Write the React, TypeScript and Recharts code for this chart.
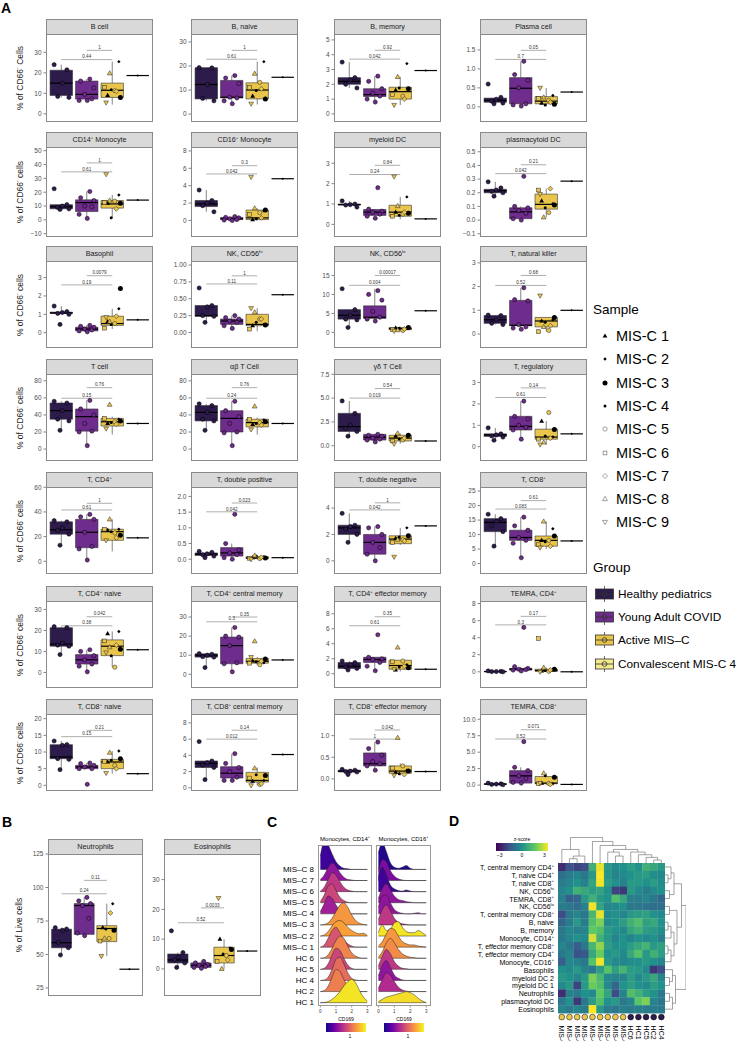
import React from 'react';
import { ComposedChart, Scatter, XAxis, YAxis, ReferenceArea, ReferenceLine, Area, Line } from 'recharts';

const FONT = '"Liberation Sans", Arial, Helvetica, sans-serif';

// ---------------- box plot panels (A: 0-27, B: 28-29) ----------------
const panelTitles = [
  'B cell', 'B, naive', 'B, memory', 'Plasma cell',
  'CD14^+ Monocyte', 'CD16^+ Monocyte', 'myeloid DC', 'plasmacytoid DC',
  'Basophil', 'NK, CD56^hi', 'NK, CD56^lo', 'T, natural killer',
  'T cell', 'αβ T Cell', 'γδ  T Cell', 'T, regulatory',
  'T, CD4^+', 'T, double positive', 'T, double negative', 'T, CD8^+',
  'T, CD4^+ naive', 'T, CD4^+ central memory', 'T, CD4^+ effector memory', 'TEMRA, CD4^+',
  'T, CD8^+ naive', 'T, CD8^+ central memory', 'T, CD8^+ effector memory', 'TEMRA, CD8^+',
  'Neutrophils', 'Eosinophils',
];

const yDomains: [number, number][] = [
  [-4, 39], [-3.3, 33.3], [-0.55, 5.4], [-0.4, 1.92],
  [-12.4, 52.7], [-1.9, 8.45], [-0.62, 3.8], [-0.124, 0.535],
  [-0.83, 3.9], [-0.23, 1.06], [-4.1, 18.8], [-0.59, 3.08],
  [-14, 88], [-14, 88], [-1.6, 7.53], [-0.67, 3.4],
  [-10.3, 60.2], [-0.47, 2.3], [-1.0, 5.6], [-3.6, 26.4],
  [-7.4, 34], [-7.2, 38.4], [-1.9, 9.7], [-1.9, 8.3],
  [-1.7, 21.4], [-0.4, 9.1], [-0.28, 1.5], [-0.9, 10.8],
  [19, 125], [-9.1, 38.6],
];

const yTicks = [
  [0, 10, 20, 30], [0, 10, 20, 30], [0, 1, 2, 3, 4, 5], [0, 0.5, 1, 1.5],
  [-10, 0, 10, 20, 30, 40, 50], [0, 2, 4, 6, 8], [0, 1, 2, 3], [-0.1, 0, 0.1, 0.2, 0.3, 0.4, 0.5],
  [0, 1, 2, 3], [0, 0.25, 0.5, 0.75, 1], [0, 5, 10, 15], [0, 1, 2, 3],
  [0, 20, 40, 60, 80], [0, 20, 40, 60, 80], [0, 2.5, 5, 7.5], [0, 1, 2, 3],
  [0, 20, 40, 60], [0, 0.5, 1, 1.5, 2], [0, 2, 4], [0, 5, 10, 15, 20, 25],
  [0, 10, 20, 30], [0, 10, 20, 30], [0, 2, 4, 6, 8], [0, 2, 4, 6, 8],
  [0, 5, 10, 15, 20], [0, 2, 4, 6, 8], [0, 0.5, 1], [0, 2.5, 5, 7.5, 10],
  [25, 50, 75, 100, 125], [0, 10, 20, 30],
];

const yDecimals = [0, 0, 0, 1, 0, 0, 0, 1, 0, 2, 0, 0, 0, 0, 1, 0, 0, 1, 0, 0, 0, 0, 0, 0, 0, 0, 1, 1, 0, 0];

// [lower whisker, q1, median, q3, upper whisker] for Healthy, Young Adult COVID, Active MIS-C
const boxStats: number[][][] = [
  [[8, 9, 15, 21.3, 24], [6.5, 7.2, 9.5, 16, 17], [4.5, 8, 11.5, 15, 25.5]],
  [[5.5, 6.3, 12.3, 19.3, 19.3], [4.3, 6.7, 7, 14, 16], [4, 6.3, 10, 13, 21.8]],
  [[1.75, 2.0, 2.2, 2.45, 3.5], [0.8, 1.17, 1.3, 1.7, 2.55], [0.6, 1.0, 1.5, 1.8, 2.5]],
  [[0.08, 0.12, 0.17, 0.23, 0.25], [0.02, 0.08, 0.49, 0.77, 1.2], [0.02, 0.08, 0.15, 0.27, 0.5]],
  [[7.5, 8, 9.5, 11, 11.5], [1, 6, 12.5, 14.5, 20.5], [1.5, 8.5, 11.5, 14, 18]],
  [[1.0, 1.6, 1.9, 2.3, 3.5], [0.0, 0.1, 0.2, 0.35, 0.45], [0.0, 0.1, 0.3, 1.2, 1.4]],
  [[0.85, 0.95, 0.97, 1.0, 1.15], [0.3, 0.44, 0.6, 0.73, 0.75], [0.25, 0.4, 0.6, 0.94, 1.35]],
  [[0.175, 0.2, 0.215, 0.225, 0.28], [0.0, 0.01, 0.06, 0.09, 0.1], [0.02, 0.08, 0.115, 0.19, 0.23]],
  [[1.0, 1.05, 1.08, 1.12, 1.45], [0.05, 0.1, 0.2, 0.3, 0.4], [0.2, 0.4, 0.5, 0.9, 1.3]],
  [[0.15, 0.24, 0.25, 0.4, 0.4], [0.06, 0.12, 0.17, 0.2, 0.25], [0.02, 0.1, 0.12, 0.27, 0.36]],
  [[1.3, 3.5, 4.5, 6, 6], [3, 3.7, 4, 7, 11.5], [0.4, 0.7, 1.0, 1.3, 1.5]],
  [[0.4, 0.45, 0.6, 0.78, 0.8], [0.2, 0.35, 0.37, 1.42, 1.95], [0.1, 0.3, 0.55, 0.7, 0.7]],
  [[22, 35, 45, 54, 56], [4, 21, 38, 47, 57], [17, 27, 32, 36, 38]],
  [[22, 33, 43, 51, 53], [4, 20, 36, 45, 56], [17, 26, 31, 35, 37]],
  [[1.0, 1.5, 2.0, 3.4, 4.7], [0.4, 0.6, 0.9, 1.2, 1.2], [0.2, 0.5, 0.8, 1.1, 1.3]],
  [[0.3, 0.48, 0.55, 0.6, 0.88], [0.35, 0.78, 0.95, 1.42, 2.13], [0.08, 0.35, 0.45, 0.82, 1.2]],
  [[13, 22, 25.5, 32, 33], [1, 11, 23.5, 34, 38], [8, 17, 24, 26, 34]],
  [[0.05, 0.12, 0.16, 0.2, 0.25], [0.0, 0.1, 0.2, 0.37, 0.5], [0.0, 0.02, 0.04, 0.08, 0.12]],
  [[1.4, 2.0, 2.5, 2.7, 3.6], [0.0, 0.5, 1.4, 2.0, 2.6], [1.2, 1.3, 1.65, 1.9, 2.5]],
  [[6, 11, 14.2, 15.5, 17], [2, 8, 9, 11.5, 16], [5, 6, 8, 9.5, 14.5]],
  [[8.5, 12.5, 13.5, 21.3, 21.8], [0.3, 4, 6, 8.5, 10.8], [2.5, 8, 12.5, 15.5, 19.5]],
  [[3.5, 9, 10, 10.7, 10.8], [1.3, 5.5, 15, 19.5, 24.5], [4.8, 5.8, 6.8, 8.3, 9]],
  [[0.5, 0.7, 1.0, 1.5, 1.7], [0.4, 1.5, 1.9, 2.2, 2.2], [0.3, 0.6, 1.1, 1.8, 1.8]],
  [[0.0, 0.0, 0.03, 0.05, 0.1], [0.1, 0.2, 0.3, 0.4, 0.6], [0.0, 0.05, 0.15, 0.3, 0.5]],
  [[4.7, 8, 8.5, 12.2, 13.3], [5, 5, 5.5, 6, 6.7], [3.5, 5, 7, 7.8, 10.3]],
  [[1.0, 2.5, 3.0, 3.3, 3.3], [0.9, 1.2, 1.8, 2.6, 4.2], [0.3, 0.7, 0.9, 1.9, 2.5]],
  [[0.1, 0.16, 0.18, 0.2, 0.22], [0.2, 0.3, 0.35, 0.6, 0.85], [0.08, 0.13, 0.18, 0.3, 0.36]],
  [[0.05, 0.1, 0.15, 0.2, 0.3], [0.3, 0.3, 1.4, 2.2, 2.7], [0.1, 0.2, 0.3, 1.3, 1.8]],
  [[49.6, 55, 58.8, 68.9, 70], [63.5, 65, 86.5, 88, 92.6], [48.8, 59.6, 69.4, 71.5, 87.9]],
  [[0.5, 2.0, 3.0, 5.0, 5.5], [0, 0.5, 1.2, 2.0, 2.5], [0, 2.0, 4.5, 7.3, 10]],
];

// Convalescent MIS-C 4 (single sample)
const convValues = [18.7, 15.3, 2.93, 0.39, 14.3, 4.8, 0.27, 0.285, 0.7, 0.56, 5.7, 1.0, 30, 30, 0.5, 0.6,
  19, 0.05, 2.65, 7.8, 10.8, 7.5, 0.6, 0.0, 3.5, 4.1, 0.17, 0.1, 39, 6];

const hcValues = [
  [24, 21.5, 15, 8.5, 8], [19.3, 19.2, 12.3, 6.5, 5.5], [3.5, 2.45, 2.3, 2.0, 1.75], [0.6, 0.25, 0.2, 0.15, 0.1, 0.08],
  [22.5, 11, 10, 9, 8, 7.5], [3.5, 2.3, 2.0, 1.7, 1.0], [1.15, 1.0, 0.97, 0.95, 0.85], [0.28, 0.235, 0.22, 0.21, 0.2, 0.175],
  [1.45, 1.15, 1.1, 1.05, 1.0, 0.45], [0.66, 0.4, 0.38, 0.25, 0.24, 0.15], [11.5, 6, 4.5, 3.5, 3.3, 1.3], [0.8, 0.78, 0.6, 0.45, 0.4],
  [56, 54, 45, 35, 33, 22], [53, 51, 43, 35, 33, 22], [4.7, 3.4, 2.2, 1.8, 1.5, 1.0], [0.88, 0.6, 0.55, 0.5, 0.45, 0.3],
  [33, 32, 27, 25, 22, 13], [0.25, 0.22, 0.17, 0.14, 0.1, 0.05], [3.6, 2.7, 2.6, 2.4, 2.0, 1.4], [17, 15.5, 14.5, 13, 11, 6],
  [21.8, 21.3, 14, 13, 12.5, 8.5], [10.8, 10.5, 10, 9.2, 9, 3.5], [1.7, 1.5, 1.2, 0.9, 0.7, 0.5], [0.1, 0.05, 0.03, 0.02, 0.0],
  [13.3, 12.2, 12, 8, 7.8, 4.7], [5.7, 3.3, 3.1, 2.8, 2.5, 1.0], [0.22, 0.2, 0.18, 0.17, 0.16, 0.1], [0.3, 0.2, 0.15, 0.1, 0.05],
  [70, 69, 68, 59, 55, 49.6], [12.8, 5.5, 4, 3, 2, 0.5],
];

const covidValues = [
  [17, 16, 12.7, 9.5, 7.3, 6.5, 6.5], [16, 15, 12.7, 7, 6.7, 5.5, 4.3], [2.55, 2.2, 1.7, 1.4, 1.2, 1.0, 0.8], [1.2, 0.85, 0.7, 0.5, 0.08, 0.05, 0.02],
  [20.5, 16, 14, 10, 9.5, 4, 1], [0.45, 0.35, 0.3, 0.2, 0.1, 0.05, 0.0], [1.8, 0.75, 0.65, 0.6, 0.5, 0.4, 0.3], [0.32, 0.1, 0.09, 0.07, 0.05, 0.01, 0.0],
  [0.4, 0.35, 0.3, 0.2, 0.15, 0.1, 0.05], [0.25, 0.22, 0.2, 0.17, 0.15, 0.1, 0.06], [11, 10, 8.5, 5.5, 4, 3.5, 3], [1.95, 1.45, 1.4, 0.4, 0.3, 0.25, 0.2],
  [57, 47, 40, 30, 21, 20, 4], [56, 45, 38, 30, 20, 19, 4], [1.2, 1.1, 1.0, 0.8, 0.7, 0.6, 0.4], [2.13, 1.42, 1.3, 1.0, 0.9, 0.78, 0.35],
  [38, 36, 34, 23.5, 12, 10, 1], [1.43, 0.5, 0.3, 0.2, 0.15, 0.05, 0.0], [2.6, 2.5, 2.0, 1.4, 1.0, 0.5, 0.0], [16, 13, 11.5, 9, 8, 7, 2],
  [10.8, 10, 8, 6, 4, 3, 0.3], [24.5, 20, 19.5, 15, 6, 5.5, 1.3], [5.2, 2.2, 2.0, 1.9, 1.5, 1.0, 0.4], [5.2, 0.6, 0.4, 0.3, 0.25, 0.2, 0.1],
  [6.7, 6.5, 6, 5.5, 5, 5, 0.3], [4.2, 3.0, 2.5, 2.0, 1.3, 0.9, 0.9], [0.85, 0.7, 0.55, 0.4, 0.35, 0.3, 0.2], [6.6, 2.7, 2.2, 1.4, 1.0, 0.4, 0.3],
  [92.6, 90, 88, 86.5, 77, 66, 64], [2.5, 2, 1.5, 1.2, 0.8, 0.5, 0.2],
];

// Active MIS-C samples, MIS-C 1 ... MIS-C 9
const miscValues = [
  [9, 25.5, 8, 11.8, 11.3, 13, 11, 19.8, 5.5], [7.5, 21.8, 6.3, 9.8, 13.2, 11, 10.5, 16.8, 4.3],
  [1.6, 3.4, 1.7, 1.75, 1.2, 1.3, 1.0, 2.5, 0.6], [0.1, 0.3, 0.07, 0.05, 0.17, 0.22, 0.12, 0.25, 0.5],
  [12, 18, 12, 1.5, 13.5, 12.5, 8, 14, 33], [0.1, 1.1, 1.2, 0.2, 0.9, 0.7, 0.3, 1.4, 5.0],
  [0.6, 1.35, 0.55, 0.45, 0.5, 0.4, 0.6, 0.9, 2.35], [0.14, 0.12, 0.11, 0.09, 0.055, 0.22, 0.23, 0.02, 0.19],
  [0.6, 1.3, 2.4, 0.45, 0.5, 0.25, 0.9, 0.6, 0.85], [0.1, 0.12, 0.11, 0.15, 0.2, 0.05, 0.2, 0.3, 0.36],
  [1.2, 1.0, 1.3, 1.1, 0.5, 0.7, 0.9, 0.6, 0.4], [0.55, 0.6, 0.7, 0.5, 0.15, 0.1, 0.35, 0.3, 1.62],
  [30, 35, 33, 31, 32, 36, 29, 52, 24], [29, 34, 32, 30, 31, 35, 28, 50, 23],
  [1.0, 0.9, 1.1, 0.7, 0.6, 0.5, 0.8, 1.3, 0.2], [1.2, 0.45, 0.8, 0.5, 1.6, 0.35, 0.4, 0.2, 0.1],
  [25, 26, 21, 24, 23, 26, 19, 34, 17], [0.05, 0.08, 0.04, 0.1, 0.02, 0.03, 0.06, 0.12, 0.0],
  [1.7, 2.5, 1.9, 1.8, 1.6, 1.4, 1.5, 1.6, 0.3], [8, 12, 9.5, 7.5, 8, 6.5, 6, 14.5, 5.5],
  [18.5, 19.5, 11, 8, 2.5, 15, 13, 12, 9.5], [7, 6, 8, 6.5, 5, 5.8, 6.8, 17.3, 9],
  [0.5, 1.2, 0.8, 0.9, 1.7, 1.6, 1.0, 3.5, 0.6], [0.1, 0.2, 0.3, 0.15, 0.05, 3.9, 0.2, 0.5, 0.0],
  [7, 10.3, 8, 7.5, 6, 7.2, 5, 9.8, 3.7], [0.8, 0.9, 1.5, 1.6, 0.4, 1.2, 0.5, 2.4, 0.3],
  [0.15, 0.2, 0.18, 0.12, 0.3, 0.25, 0.1, 0.95, 0.08], [0.3, 0.2, 1.2, 1.4, 0.25, 0.2, 0.1, 1.8, 0.3],
  [70, 87.9, 68, 69, 62, 60, 81, 62, 48.8], [10, 7, 6.5, 5, 4.5, 2.5, 3, 0, 23.8],
];

// p-values: [Healthy vs Active MIS-C, Young Adult COVID vs Active MIS-C]
const pValues = [
  ['0.44', '1'], ['0.61', '1'], ['0.042', '0.92'], ['0.7', '0.05'],
  ['0.61', '1'], ['0.042', '0.3'], ['0.24', '0.84'], ['0.042', '0.21'],
  ['0.19', '0.0079'], ['0.11', '1'], ['0.004', '0.00017'], ['0.52', '0.68'],
  ['0.15', '0.76'], ['0.24', '0.76'], ['0.019', '0.54'], ['0.61', '0.14'],
  ['0.61', '1'], ['0.042', '0.023'], ['0.042', '1'], ['0.083', '0.61'],
  ['0.38', '0.042'], ['0.3', '0.35'], ['0.61', '0.35'], ['0.3', '0.17'],
  ['0.15', '0.21'], ['0.012', '0.14'], ['1', '0.042'], ['0.52', '0.071'],
  ['0.24', '0.11'], ['0.52', '0.0033'],
];

const bracketY = [
  [26.5, 31], [22.8, 26.5], [3.7, 4.3], [1.25, 1.49],
  [34.7, 41.2], [5.35, 6.3], [2.45, 2.9], [0.34, 0.405],
  [2.6, 3.1], [0.72, 0.84], [12.4, 15], [2.05, 2.47],
  [59.6, 72], [59.6, 72], [5.0, 6.0], [2.3, 2.75],
  [41.6, 47], [1.51, 1.79], [3.86, 4.4], [18.8, 21.7],
  [22.2, 26.5], [27.5, 30], [6.4, 7.6], [5.5, 6.5],
  [14.6, 16.5], [6.0, 7.1], [0.92, 1.13], [7.0, 8.4],
  [95.3, 105.3], [15.5, 20.5],
];

const groupNames = ['Healthy pediatrics', 'Young Adult COVID', 'Active MIS–C', 'Convalescent MIS-C 4'];
const sampleNames = ['MIS-C 1', 'MIS-C 2', 'MIS-C 3', 'MIS-C 4', 'MIS-C 5', 'MIS-C 6', 'MIS-C 7', 'MIS-C 8', 'MIS-C 9'];

// ---------------- C: ridgelines ----------------
const ridgeLabels = ['MIS–C 8', 'MIS–C 7', 'MIS–C 6', 'MIS–C 5', 'MIS–C 4', 'MIS–C 3', 'MIS–C 2', 'MIS–C 1', 'HC 6', 'HC 5', 'HC 4', 'HC 2', 'HC 1'];
const ridgeX = [0, 0.25, 0.5, 0.75, 1, 1.25, 1.5, 1.75, 2, 2.25, 2.5, 2.75, 3];
const cd14Density = [
  [1.2, 2.5, 2.2, 1.4, 0.7, 0.3, 0.1, 0.05, 0, 0, 0, 0, 0],
  [0.1, 0.5, 1.2, 1.6, 1.3, 0.7, 0.3, 0.1, 0.05, 0, 0, 0, 0],
  [0.05, 0.4, 1.1, 1.7, 1.5, 0.9, 0.4, 0.15, 0.05, 0, 0, 0, 0],
  [0.1, 0.7, 1.5, 1.7, 1.1, 0.5, 0.2, 0.05, 0, 0, 0, 0, 0],
  [0.2, 0.9, 1.6, 1.4, 0.8, 0.3, 0.1, 0, 0, 0, 0, 0, 0],
  [0, 0.05, 0.2, 0.6, 1.2, 1.8, 2.0, 1.6, 0.9, 0.4, 0.15, 0.05, 0],
  [0, 0.1, 0.4, 0.9, 1.3, 1.4, 1.2, 0.8, 0.5, 0.3, 0.2, 0.25, 0.05],
  [0, 0.2, 0.8, 1.5, 1.8, 1.3, 0.7, 0.3, 0.1, 0, 0, 0, 0],
  [0, 0.05, 0.3, 0.9, 1.6, 2.0, 1.8, 1.1, 0.5, 0.2, 0.05, 0, 0],
  [0, 0.1, 0.5, 1.3, 1.9, 1.7, 1.0, 0.4, 0.1, 0, 0, 0, 0],
  [0, 0.05, 0.3, 1.0, 1.9, 2.1, 1.5, 0.7, 0.2, 0.05, 0, 0, 0],
  [0, 0.1, 0.5, 1.3, 2.0, 1.8, 1.1, 0.5, 0.15, 0.05, 0, 0, 0],
  [0, 0.02, 0.1, 0.3, 0.6, 1.0, 1.5, 1.9, 2.1, 1.8, 1.1, 0.5, 0.15],
];
const cd16Density = [
  [1.5, 2.4, 1.6, 0.6, 0.2, 0.1, 0.2, 0.35, 0.1, 0, 0, 0, 0],
  [0.8, 1.9, 1.7, 0.9, 0.4, 0.15, 0.05, 0, 0, 0, 0, 0, 0],
  [1.3, 2.2, 1.5, 0.6, 0.25, 0.1, 0.05, 0.15, 0.05, 0, 0, 0, 0],
  [0.4, 1.3, 1.7, 1.2, 0.6, 0.3, 0.2, 0.1, 0.05, 0, 0, 0, 0],
  [0.6, 1.6, 1.7, 1.0, 0.4, 0.15, 0.05, 0, 0, 0.05, 0.1, 0, 0],
  [0.5, 1.4, 1.8, 1.3, 0.6, 0.25, 0.1, 0.05, 0, 0, 0, 0, 0],
  [0.3, 1.0, 0.5, 0.6, 1.2, 1.3, 0.8, 0.4, 0.3, 0.3, 0.5, 0.3, 0.05],
  [0.1, 0.5, 1.2, 1.7, 1.6, 1.0, 0.5, 0.3, 0.2, 0.2, 0.1, 0.05, 0],
  [0.1, 0.6, 1.4, 1.8, 1.4, 0.8, 0.4, 0.2, 0.1, 0.05, 0, 0, 0],
  [0.3, 1.2, 1.8, 1.4, 0.7, 0.3, 0.1, 0.05, 0, 0, 0, 0, 0],
  [0.4, 1.4, 1.8, 1.2, 0.5, 0.2, 0.05, 0, 0, 0, 0, 0, 0],
  [0.3, 1.1, 1.7, 1.5, 0.9, 0.4, 0.15, 0.05, 0, 0, 0, 0, 0],
  [0.1, 0.3, 0.5, 0.6, 0.7, 0.8, 0.9, 1.0, 0.9, 0.7, 0.4, 0.15, 0.02],
];
// scaled median CD169 per ridge (fill colour)
const cd14Level = [0.1, 0.3, 0.45, 0.5, 0.35, 0.75, 0.78, 0.55, 0.7, 0.5, 0.62, 0.68, 0.95];
const cd16Level = [0.05, 0.25, 0.1, 0.3, 0.3, 0.45, 0.95, 0.75, 0.72, 0.45, 0.3, 0.4, 0.93];

// ---------------- D: heatmap ----------------
const heatRows = [
  'T, central memory CD4^+', 'T, naive CD4^+', 'T, naive CD8^+', 'NK, CD56^hi', 'TEMRA, CD8^+', 'NK, CD56^lo',
  'T, central memory CD8^+', 'B, naive', 'B, memory', 'Monocyte, CD14^+', 'T, effector memory CD8^+',
  'T, effector memory CD4^+', 'Monocyte, CD16^+', 'Basophils', 'myeloid DC 2', 'myeloid DC 1', 'Neutrophils',
  'plasmacytoid DC', 'Eosinophils',
];
const heatCols = ['MIS-C 8', 'MIS-C 4', 'MIS-C 2', 'MIS-C 7', 'MIS-C 9', 'MIS-C 1', 'MIS-C 5', 'MIS-C 6', 'MIS-C 3', 'HC6', 'HC1', 'HC5', 'HC2', 'HC4'];
const heatColIsHC = [0, 0, 0, 0, 0, 0, 0, 0, 0, 1, 1, 1, 1, 1];
const heatZ = [
  [-2.2, -1.5, -1.8, -1.6, 0.8, 2.8, 0.2, -0.2, 0.0, 0.3, 0.0, 0.8, 0.6, 0.2],
  [-0.8, -0.5, -0.3, -0.6, 0.2, 3.0, 0.1, -0.3, -0.2, 0.0, 0.2, 0.3, -0.1, -0.2],
  [-0.5, -0.3, 0.0, -0.4, 0.5, 2.9, 0.3, 0.0, -0.4, 0.2, 0.2, 0.0, 0.3, -0.1],
  [-0.3, 0.0, 0.8, 0.6, 0.3, 0.5, 0.0, -1.8, -2.0, 0.2, -0.2, -0.5, -0.2, 0.0],
  [-0.4, -1.2, -1.0, 0.2, 0.8, 0.2, 0.0, 1.2, 0.6, -0.4, -0.5, -0.3, -0.6, -1.0],
  [-0.5, -0.6, -0.8, -0.4, 2.9, 0.5, -0.3, -0.2, 0.0, -0.6, -0.6, -0.7, -0.8, -0.8],
  [-1.6, -0.6, -0.3, -0.6, 1.0, 2.8, -0.2, 0.0, -0.3, 0.2, 0.3, 0.4, 0.0, -0.2],
  [-1.0, -0.5, 0.2, -0.5, 1.2, 1.8, -0.2, 0.0, 0.3, 0.8, 1.2, 0.4, 0.6, 0.0],
  [-0.6, -0.2, -0.4, -0.3, 1.5, 1.2, 0.2, 0.0, -0.2, 0.5, 0.8, 0.3, 0.2, -0.1],
  [-0.6, -0.3, 0.0, -0.2, 2.6, 0.8, 0.2, -0.3, 0.0, -0.3, 0.0, -0.2, 0.0, -0.4],
  [-0.3, -0.6, -1.2, -0.6, 1.0, 2.0, 0.3, 0.0, 0.0, 0.3, 0.6, 0.9, 0.2, 0.4],
  [-0.6, -0.3, -1.5, -1.3, 0.6, 1.6, 0.0, 0.2, -0.2, 0.6, 1.3, 0.2, 0.8, 0.3],
  [-1.2, -0.2, -0.4, -0.6, 1.3, 2.9, 0.2, -0.2, -0.3, -0.1, 0.0, 0.2, 0.0, -0.3],
  [0.0, -0.2, 0.2, -0.3, -0.6, 0.3, 1.3, 0.4, 0.9, 0.3, 0.2, -0.2, -2.0, -1.6],
  [0.2, 0.0, -0.3, 0.2, 1.8, 1.0, -0.2, -0.3, -0.3, 0.3, -0.2, 0.2, 0.6, -0.3],
  [-0.2, 0.2, -1.8, 0.2, 1.6, 1.2, -0.2, -1.0, 0.0, 0.3, 0.0, -0.2, 0.3, 0.0],
  [-2.2, -0.4, -0.5, 0.0, -0.2, 1.5, 0.5, -1.6, -0.3, 1.2, 0.8, 0.3, 0.0, -0.6],
  [-0.6, 0.0, -2.0, -0.6, 0.3, 1.2, 0.0, 0.2, -0.6, -0.3, 1.4, 1.8, -0.3, -0.6],
  [-0.3, -0.5, -0.3, -0.5, 3.0, 0.2, -0.5, -0.6, -0.4, -0.5, -0.4, -0.5, -0.5, -0.5],
];
// dendrogram merges: [child a, child b, height]; leaves first, merged nodes numbered after them
const colTree = [
  [1, 2, 2], [14, 3, 3], [0, 15, 5.5], [12, 13, 1.5], [11, 17, 2.5], [10, 18, 3.5], [9, 19, 4.5],
  [7, 8, 3], [6, 21, 4.5], [22, 20, 5.5], [5, 23, 7], [4, 24, 8.5], [16, 25, 10],
];
const rowTree = [
  [1, 2, 1], [0, 19, 2], [3, 4, 1.5], [20, 21, 3], [5, 6, 1.5], [7, 8, 1], [24, 9, 2], [10, 11, 1],
  [26, 12, 2], [25, 27, 3], [23, 28, 4], [22, 29, 5.5], [14, 15, 1.5], [13, 31, 2.5], [16, 17, 1.5],
  [33, 18, 2.5], [32, 34, 3.5], [30, 35, 7],
];

// ---------------- styling / layout ----------------
const groupFill = ['#2C1B4B', '#6E2C8C', '#EAC54C', '#F4EA8C'];
const jitterHc = [-0.28, 0.22, 0.04, -0.14, 0.3, -0.05];
const jitterCov = [0.12, -0.24, 0.28, -0.08, 0.2, -0.3, 0.02];
const jitterMis = [-0.18, 0.26, 0.32, -0.04, 0.1, -0.3, 0.16, -0.1, -0.24];
const colLeft = [46, 191, 334, 480];
const plotW = 107;
const rowStripTop = [19, 132, 246, 359, 472, 586, 699];
const rowPlotBottom = [122, 237, 348, 461, 574, 688, 791];
const STRIP = 15;
const YW = 30, MT = 5, MB = 5, MR = 3, BH = 0.44;
const DY = 5; // vertical offset of the lower B / C / D block

const lerpHex = (stops: string[], t: number) => {
  const tt = Math.max(0, Math.min(1, t)) * (stops.length - 1);
  const k = Math.min(stops.length - 2, Math.floor(tt));
  const f = tt - k;
  const a = stops[k], b = stops[k + 1];
  const ch = (s: string, o: number) => parseInt(s.slice(o, o + 2), 16);
  const c = [1, 3, 5].map((o) => Math.round(ch(a, o) + (ch(b, o) - ch(a, o)) * f));
  return `rgb(${c[0]},${c[1]},${c[2]})`;
};
const PLASMA = ['#0d0887', '#6a00a8', '#b12a90', '#e16462', '#fca636', '#f0f921'];
const VIRIDIS = ['#440154', '#3b528b', '#21918c', '#5ec962', '#fde725'];
const plasma = (t: number) => lerpHex(PLASMA, t);
const viridis = (z: number) => lerpHex(VIRIDIS, (z + 3) / 6);

const fmt = (v: number, d: number) => (v < 0 ? '−' : '') + Math.abs(v).toFixed(d);

function Rich({ text }: { text: string }) {
  const parts = text.split(/\^(\S+)/);
  return (
    <>
      {parts.map((p, k) =>
        k % 2 ? <sup key={k} style={{ fontSize: '0.6em', lineHeight: 0 }}>{p}</sup> : <span key={k}>{p}</span>,
      )}
    </>
  );
}

function SupText({ x, y, text, fontSize, anchor, fill }: any) {
  const parts = text.split(/\^(\S+)/);
  const out: any[] = [];
  let shifted = false;
  parts.forEach((p: string, k: number) => {
    if (!p) return;
    if (k % 2) {
      out.push(<tspan key={k} fontSize={fontSize * 0.62} dy={-fontSize * 0.35}>{p}</tspan>);
      shifted = true;
    } else {
      out.push(<tspan key={k} dy={shifted ? fontSize * 0.35 : 0}>{p}</tspan>);
      shifted = false;
    }
  });
  return (
    <text x={x} y={y} fontSize={fontSize} textAnchor={anchor} fill={fill} dominantBaseline="central" fontFamily={FONT}>
      {out}
    </text>
  );
}

function misShape(s: number, cx: number, cy: number, fill: string, stroke: string, key?: any) {
  const sw = 0.55;
  switch (s) {
    case 0:
      return <polygon key={key} points={`${cx},${cy - 2.6} ${cx - 2.4},${cy + 1.6} ${cx + 2.4},${cy + 1.6}`} fill="#000" />;
    case 1:
      return <polygon key={key} points={`${cx},${cy - 1.7} ${cx + 1.7},${cy} ${cx},${cy + 1.7} ${cx - 1.7},${cy}`} fill="#000" />;
    case 2:
      return <circle key={key} cx={cx} cy={cy} r={2.5} fill="#000" />;
    case 3:
      return <circle key={key} cx={cx} cy={cy} r={1.5} fill="#000" />;
    case 4:
      return <circle key={key} cx={cx} cy={cy} r={2.1} fill={fill} stroke={stroke} strokeWidth={sw} />;
    case 5:
      return <rect key={key} x={cx - 1.9} y={cy - 1.9} width={3.8} height={3.8} fill={fill} stroke={stroke} strokeWidth={sw} />;
    case 6:
      return <polygon key={key} points={`${cx},${cy - 2.5} ${cx + 2.5},${cy} ${cx},${cy + 2.5} ${cx - 2.5},${cy}`} fill={fill} stroke={stroke} strokeWidth={sw} />;
    case 7:
      return <polygon key={key} points={`${cx},${cy - 2.6} ${cx - 2.4},${cy + 1.6} ${cx + 2.4},${cy + 1.6}`} fill={fill} stroke={stroke} strokeWidth={sw} />;
    default:
      return <polygon key={key} points={`${cx},${cy + 2.6} ${cx - 2.4},${cy - 1.6} ${cx + 2.4},${cy - 1.6}`} fill={fill} stroke={stroke} strokeWidth={sw} />;
  }
}

const renderPoint = (props: any) => {
  const { cx, cy } = props;
  const p = props.payload || props;
  if (cx == null || cy == null) return <g />;
  if (p.kind === 'hc') return <circle cx={cx} cy={cy} r={2.1} fill={groupFill[0]} stroke="#000" strokeWidth={0.5} />;
  if (p.kind === 'cov') return <circle cx={cx} cy={cy} r={2.1} fill={groupFill[1]} stroke="#000" strokeWidth={0.5} />;
  if (p.kind === 'conv') return <circle cx={cx} cy={cy} r={1} fill="#000" />;
  return misShape(p.s, cx, cy, groupFill[2], '#333');
};

const renderPLabel = (props: any) => {
  const { cx, cy } = props;
  const p = props.payload || props;
  if (cx == null) return <g />;
  return (
    <text x={cx} y={cy - 1.3} fontSize={4.6} textAnchor="middle" fill="#333" fontFamily={FONT}>
      {p.t}
    </text>
  );
};

function BoxPanel({ i, left, stripTop, plotTop, plotBottom, w }: any) {
  const h = plotBottom - plotTop;
  const [lo, hi] = yDomains[i];
  const stats = boxStats[i];
  const pts: any[] = [
    ...hcValues[i].map((v, k) => ({ x: 1 + jitterHc[k], y: v, kind: 'hc' })),
    ...covidValues[i].map((v, k) => ({ x: 2 + jitterCov[k], y: v, kind: 'cov' })),
    { x: 4, y: convValues[i], kind: 'conv' },
    ...miscValues[i].map((v, k) => ({ x: 3 + jitterMis[k], y: v, kind: 'mis', s: k })),
  ];
  const labels = [
    { x: 2, y: bracketY[i][0], t: pValues[i][0] },
    { x: 2.5, y: bracketY[i][1], t: pValues[i][1] },
  ];
  const conv = convValues[i];
  return (
    <>
      <div
        style={{
          position: 'absolute', left, top: stripTop, width: w, height: plotTop - stripTop, boxSizing: 'border-box',
          background: '#D9D9D9', border: '1px solid #8A8A8A', borderBottom: 'none', fontSize: 7.2,
          lineHeight: `${plotTop - stripTop - 1}px`, textAlign: 'center', color: '#1A1A1A', whiteSpace: 'nowrap',
        }}
      >
        <Rich text={panelTitles[i]} />
      </div>
      <div style={{ position: 'absolute', left: left - YW, top: plotTop - MT }}>
        <ComposedChart width={YW + w + MR} height={h + MT + MB} margin={{ top: MT, right: MR, bottom: MB, left: 0 }}>
          <XAxis type="number" dataKey="x" domain={[0.4, 4.6]} hide allowDataOverflow />
          <YAxis
            type="number" dataKey="y" domain={[lo, hi]} allowDataOverflow ticks={yTicks[i]} interval={0} width={YW}
            axisLine={false} tickSize={2.5} tickLine={{ stroke: '#333', strokeWidth: 0.6 }}
            tick={{ fontSize: 6.5, fill: '#4D4D4D', fontFamily: FONT }} tickFormatter={(v: number) => fmt(v, yDecimals[i])}
          />
          {stats.map((s, g) => (
            <ReferenceLine key={'wl' + g} segment={[{ x: g + 1, y: s[0] }, { x: g + 1, y: s[1] }]} stroke="#333" strokeWidth={0.6} ifOverflow="visible" />
          ))}
          {stats.map((s, g) => (
            <ReferenceLine key={'wh' + g} segment={[{ x: g + 1, y: s[3] }, { x: g + 1, y: s[4] }]} stroke="#333" strokeWidth={0.6} ifOverflow="visible" />
          ))}
          {stats.map((s, g) => (
            <ReferenceArea key={'b' + g} x1={g + 1 - BH} x2={g + 1 + BH} y1={s[1]} y2={s[3]} fill={groupFill[g]} fillOpacity={1} stroke="#333" strokeWidth={0.6} ifOverflow="visible" />
          ))}
          {stats.map((s, g) => (
            <ReferenceLine key={'m' + g} segment={[{ x: g + 1 - BH, y: s[2] }, { x: g + 1 + BH, y: s[2] }]} stroke="#000" strokeWidth={1.2} ifOverflow="visible" />
          ))}
          <ReferenceLine segment={[{ x: 4 - BH, y: conv }, { x: 4 + BH, y: conv }]} stroke="#000" strokeWidth={1.2} ifOverflow="visible" />
          <ReferenceLine segment={[{ x: 1, y: bracketY[i][0] }, { x: 3, y: bracketY[i][0] }]} stroke="#777" strokeWidth={0.6} ifOverflow="visible" />
          <ReferenceLine segment={[{ x: 2, y: bracketY[i][1] }, { x: 3, y: bracketY[i][1] }]} stroke="#777" strokeWidth={0.6} ifOverflow="visible" />
          <Scatter data={pts} shape={renderPoint} isAnimationActive={false} />
          <Scatter data={labels} shape={renderPLabel} isAnimationActive={false} />
        </ComposedChart>
      </div>
      <div style={{ position: 'absolute', left, top: plotTop, width: w, height: h, border: '1px solid #8A8A8A', boxSizing: 'border-box', pointerEvents: 'none' }} />
    </>
  );
}

function YTitle({ x, y, text }: any) {
  return (
    <div style={{ position: 'absolute', left: x, top: y, transform: 'translate(-50%,-50%) rotate(-90deg)', whiteSpace: 'nowrap', fontSize: 8.5, color: '#1A1A1A' }}>
      <Rich text={text} />
    </div>
  );
}

function RidgePanel({ dens, levels, left, top, w, h, showLabels, title }: any) {
  const data = ridgeX.map((x, k) => {
    const row: any = { x };
    dens.forEach((d: number[], r: number) => {
      const base = 12 - r;
      row['r' + r] = [base, base + d[k]];
    });
    return row;
  });
  const yw = showLabels ? 40 : 0;
  return (
    <>
      <div style={{ position: 'absolute', left, top: top - 9, width: w, textAlign: 'center', fontSize: 6, whiteSpace: 'nowrap' }}>
        <Rich text={title} />
      </div>
      <div style={{ position: 'absolute', left: left - yw, top }}>
        <ComposedChart width={yw + w} height={h + 10} data={data} margin={{ top: 0, right: 0, bottom: 0, left: 0 }}>
          <XAxis type="number" dataKey="x" domain={[-0.15, 3.3]} allowDataOverflow ticks={[0, 1, 2, 3]} height={10}
            tickSize={1.5} tick={{ fontSize: 4.5, fill: '#333' }} axisLine={false} tickLine={{ stroke: '#333', strokeWidth: 0.5 }} />
          <YAxis type="number" domain={[-0.3, 14.2]} allowDataOverflow ticks={[0, 1, 2, 3, 4, 5, 6, 7, 8, 9, 10, 11, 12]} interval={0}
            width={yw} hide={!showLabels} axisLine={false} tickLine={false} tickSize={2}
            tick={(tp: any) => (
              <text x={tp.x} y={tp.y} textAnchor="end" dominantBaseline="central" fontSize={8} fill="#000" fontFamily={FONT}>
                {ridgeLabels[12 - tp.payload.value]}
              </text>
            )} />
          {dens.map((_: any, r: number) => (
            <Area key={r} dataKey={'r' + r} type="monotone" fill={plasma(levels[r])} fillOpacity={1} stroke="#222" strokeWidth={0.5} isAnimationActive={false} dot={false} />
          ))}
        </ComposedChart>
      </div>
      <div style={{ position: 'absolute', left, top, width: w, height: h, border: '1px solid #999', boxSizing: 'border-box', pointerEvents: 'none' }} />
    </>
  );
}

function ColorBar({ left, top, w, h, stops, title, labels }: any) {
  return (
    <>
      <div style={{ position: 'absolute', left, top: top - 7, width: w, textAlign: 'center', fontSize: 5 }}>{title}</div>
      <div style={{ position: 'absolute', left, top, width: w, height: h, background: `linear-gradient(to right, ${stops.join(',')})` }} />
      {labels.map((l: any, k: number) => (
        <div key={k} style={{ position: 'absolute', left: left + l[0] * w - 10, top: top + h + 1, width: 20, textAlign: 'center', fontSize: 5 }}>{l[1]}</div>
      ))}
    </>
  );
}

// flatten dendrogram merges into a broken polyline (null y = gap)
function treePath(tree: number[][], nLeaves: number, horizontal: boolean) {
  const pos: number[] = [];
  const ht: number[] = [];
  for (let k = 0; k < nLeaves; k++) { pos[k] = k; ht[k] = 0; }
  const pts: any[] = [];
  const add = (p: number, v: number) => pts.push(horizontal ? { x: v, y: nLeaves - 1 - p } : { x: p, y: v });
  tree.forEach(([a, b, hh], k) => {
    const id = nLeaves + k;
    pos[id] = (pos[a] + pos[b]) / 2;
    ht[id] = hh;
    add(pos[a], ht[a]);
    add(pos[a], hh);
    add(pos[b], hh);
    add(pos[b], ht[b]);
    pts.push({ x: pts[pts.length - 1].x, y: null });
  });
  return pts;
}

const HM_LEFT = 557.7, HM_TOP = 858 + DY, HM_W = 107.2, HM_H = 159.6, HM_YW = 110;
const cellW = HM_W / 14, cellH = HM_H / 20.2;

const renderCell = (props: any) => {
  const { cx, cy } = props;
  const p = props.payload || props;
  if (cx == null) return <g />;
  if (p.kind === 'ann') {
    return <circle cx={cx} cy={cy} r={2.9} fill={p.hc ? groupFill[0] : groupFill[2]} stroke="#000" strokeWidth={0.5} />;
  }
  return <rect x={cx - cellW / 2} y={cy - cellH / 2} width={cellW + 0.3} height={cellH + 0.3} fill={viridis(p.z)} />;
};

function Heatmap() {
  const cells: any[] = [];
  heatZ.forEach((row, r) => row.forEach((z, c) => cells.push({ x: c, y: 18 - r, z, kind: 'cell' })));
  const ann = heatColIsHC.map((hc, c) => ({ x: c, y: -1, hc, kind: 'ann' }));
  const colPath = treePath(colTree, 14, false);
  const rowPath = treePath(rowTree, 19, true);
  return (
    <>
      <div style={{ position: 'absolute', left: HM_LEFT - HM_YW, top: HM_TOP }}>
        <ComposedChart width={HM_YW + HM_W} height={HM_H + 30} margin={{ top: 0, right: 0, bottom: 0, left: 0 }}>
          <XAxis type="number" dataKey="x" domain={[-0.5, 13.5]} allowDataOverflow ticks={heatCols.map((_, k) => k)} interval={0}
            height={30} axisLine={false} tickLine={false} tickSize={0}
            tick={(tp: any) => (
              <text transform={`translate(${tp.x},${tp.y + 1}) rotate(90)`} fontSize={7} fill="#000" dominantBaseline="central" fontFamily={FONT}>
                {heatCols[tp.payload.value]}
              </text>
            )} />
          <YAxis type="number" dataKey="y" domain={[-1.7, 18.5]} allowDataOverflow ticks={heatRows.map((_, k) => 18 - k)} interval={0}
            width={HM_YW} axisLine={false} tickLine={false} tickSize={2}
            tick={(tp: any) => <SupText x={tp.x} y={tp.y} text={heatRows[18 - tp.payload.value]} fontSize={7} anchor="end" fill="#000" />} />
          <Scatter data={cells} shape={renderCell} isAnimationActive={false} />
          <Scatter data={ann} shape={renderCell} isAnimationActive={false} />
        </ComposedChart>
      </div>
      <div style={{ position: 'absolute', left: HM_LEFT, top: HM_TOP - 27 }}>
        <ComposedChart width={HM_W} height={28} margin={{ top: 1, right: 0, bottom: 0, left: 0 }}>
          <XAxis type="number" dataKey="x" domain={[-0.5, 13.5]} hide allowDataOverflow />
          <YAxis type="number" domain={[0, 10.2]} hide allowDataOverflow />
          <Line data={colPath} dataKey="y" type="linear" stroke="#666" strokeWidth={0.6} dot={false} connectNulls={false} isAnimationActive={false} />
        </ComposedChart>
      </div>
      <div style={{ position: 'absolute', left: HM_LEFT + HM_W, top: HM_TOP }}>
        <ComposedChart width={22} height={HM_H} margin={{ top: 0, right: 1, bottom: 0, left: 0 }}>
          <XAxis type="number" dataKey="x" domain={[0, 7]} hide allowDataOverflow />
          <YAxis type="number" domain={[-1.7, 18.5]} hide allowDataOverflow />
          <Line data={rowPath} dataKey="y" type="linear" stroke="#666" strokeWidth={0.6} dot={false} connectNulls={false} isAnimationActive={false} />
        </ComposedChart>
      </div>
      <ColorBar left={496} top={838 + DY} w={52} h={8} stops={VIRIDIS} title="z-score" labels={[[0.07, '−3'], [0.5, '0'], [0.93, '3']]} />
    </>
  );
}

function Legends() {
  const sy = 336, sstep = 23.3;
  const gy = 594, gstep = 23.2;
  return (
    <>
      <div style={{ position: 'absolute', left: 593, top: 302, fontSize: 13.5 }}>Sample</div>
      {sampleNames.map((n, k) => (
        <React.Fragment key={n}>
          <svg style={{ position: 'absolute', left: 599, top: sy + k * sstep - 6 }} width={12} height={12}>
            {misShape(k, 6, 6, '#fff', '#555')}
          </svg>
          <div style={{ position: 'absolute', left: 616, top: sy + k * sstep - 9, fontSize: 14.5, lineHeight: '18px' }}>{n}</div>
        </React.Fragment>
      ))}
      <div style={{ position: 'absolute', left: 593, top: 560, fontSize: 13.5 }}>Group</div>
      {groupNames.map((n, k) => (
        <React.Fragment key={n}>
          <svg style={{ position: 'absolute', left: 595, top: gy + k * gstep - 8 }} width={19} height={16}>
            <line x1={9.5} y1={0} x2={9.5} y2={16} stroke="#444" strokeWidth={0.8} />
            <rect x={0.5} y={3} width={18} height={10} fill={groupFill[k]} stroke="#333" strokeWidth={0.8} />
            <line x1={0.5} y1={8} x2={18.5} y2={8} stroke="#333" strokeWidth={0.8} />
            <circle cx={9.5} cy={8} r={2.4} fill="none" stroke="#333" strokeWidth={0.8} />
          </svg>
          <div style={{ position: 'absolute', left: 618, top: gy + k * gstep - 8, fontSize: 11.8, lineHeight: '16px', whiteSpace: 'nowrap' }}>{n}</div>
        </React.Fragment>
      ))}
    </>
  );
}

export default function App() {
  const letter = (t: string, x: number, y: number) => (
    <div style={{ position: 'absolute', left: x, top: y, fontSize: 14, fontWeight: 'bold', lineHeight: '16px' }}>{t}</div>
  );
  return (
    <div style={{ position: 'absolute', left: 0, top: 0, width: 738, height: 1041, background: '#fff', overflow: 'hidden', fontFamily: FONT, color: '#000' }}>
      {letter('A', 1, 0)}
      {letter('B', 2, 814)}
      {letter('C', 267, 814)}
      {letter('D', 449, 813)}
      {panelTitles.slice(0, 28).map((_, i) => {
        const r = Math.floor(i / 4);
        return (
          <BoxPanel key={i} i={i} left={colLeft[i % 4]} stripTop={rowStripTop[r]} plotTop={rowStripTop[r] + STRIP} plotBottom={rowPlotBottom[r]} w={plotW} />
        );
      })}
      {rowStripTop.map((t, r) => (
        <YTitle key={r} x={20} y={(t + STRIP + rowPlotBottom[r]) / 2} text={r === 0 ? '% of CD66^- Cells' : '% of CD66^- cells'} />
      ))}
      <BoxPanel i={28} left={48} stripTop={834 + DY} plotTop={849 + DY} plotBottom={996} w={95} />
      <BoxPanel i={29} left={164} stripTop={834 + DY} plotTop={849 + DY} plotBottom={996} w={97} />
      <YTitle x={19} y={925} text="% of Live cells" />
      <RidgePanel dens={cd14Density} levels={cd14Level} left={318} top={840 + DY} w={54} h={161} showLabels title="Monocytes, CD14^+" />
      <RidgePanel dens={cd16Density} levels={cd16Level} left={376} top={840 + DY} w={55} h={161} showLabels={false} title="Monocytes, CD16^+" />
      <ColorBar left={326} top={1018 + DY} w={40} h={9} stops={PLASMA} title="CD169" labels={[[0.6, '1']]} />
      <ColorBar left={384} top={1018 + DY} w={40} h={9} stops={PLASMA} title="CD169" labels={[[0.6, '1']]} />
      <Heatmap />
      <Legends />
    </div>
  );
}
